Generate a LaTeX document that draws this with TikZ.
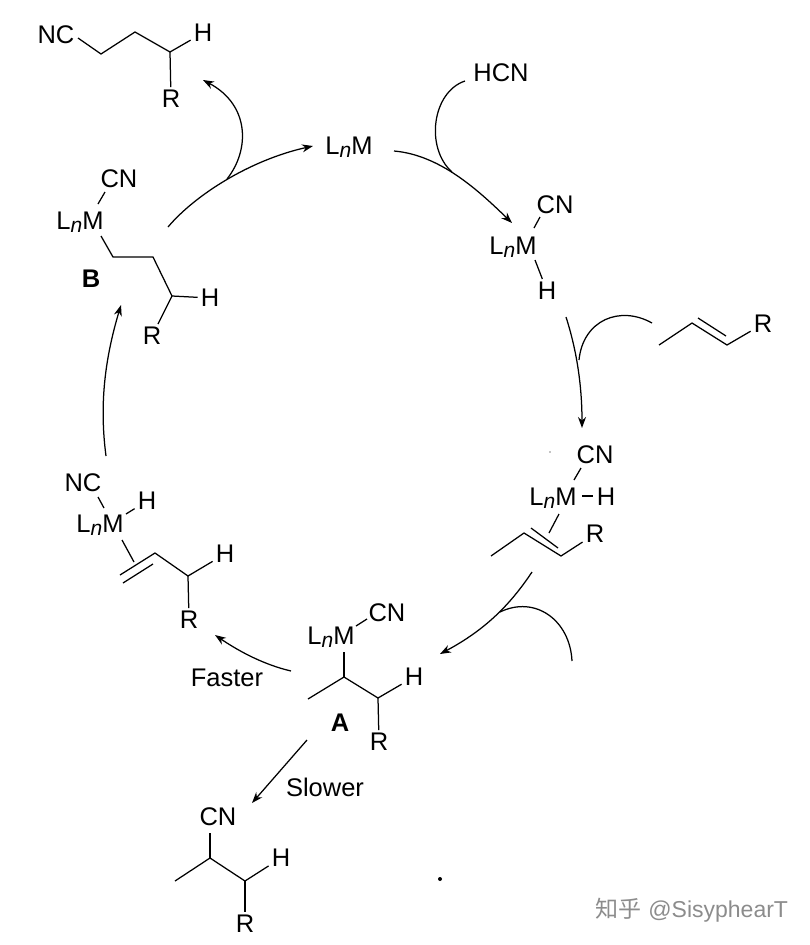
\documentclass[tikz,border=0pt]{standalone}
\usepackage{fontspec}
\setmainfont{Liberation Sans}
\newfontfamily\cjk{Noto Sans CJK SC}
\usetikzlibrary{arrows.meta}
\newcommand{\LnM}{L\raisebox{-3pt}{\fontsize{21}{21}\selectfont\textit{n}}M}
\tikzset{
  lbl/.style={inner sep=3pt,font=\fontsize{25.5}{28}\selectfont},
  bond/.style={line width=1.25pt},
  cyc/.style={line width=1.25pt,-{Stealth[length=11pt,width=8pt]}},
  feed/.style={line width=1.25pt}
}
\begin{document}
\begin{tikzpicture}[x=1pt,y=-1pt]
\useasboundingbox (0,0) rectangle (810,945);
% top product
\node[lbl] (ncT) at (56,35) {NC};
\node[lbl] (hT) at (203,33) {H};
\node[lbl] (rT) at (171,99) {R};
\coordinate (t0) at (78,38);
\coordinate (t1) at (101,54);
\coordinate (t2) at (135,32);
\coordinate (t3) at (170,52);
\draw[bond] (t0) -- (t1) -- (t2) -- (t3) -- (hT);
\draw[bond] (t3) -- (rT);
% catalyst
\node[lbl] (cat) at (349,147) {\LnM};
% HCN adduct
\node[lbl] (hcn) at (501,73) {HCN};
\node[lbl] (cnH) at (555,205) {CN};
\node[lbl] (mH) at (513,247) {\LnM};
\node[lbl] (hH) at (547,291) {H};
\coordinate (h0) at (540,217);
\coordinate (h1) at (534,228);
\coordinate (h2) at (535,260);
\draw[bond] (h0) -- (h1);
\draw[bond] (h2) -- (hH);
% free alkene
\node[lbl] (rE) at (763,324) {R};
\coordinate (e0) at (659,345);
\coordinate (e1) at (692,323);
\coordinate (e2) at (727,345);
\coordinate (e3) at (698,318);
\coordinate (e4) at (726,336);
\draw[bond] (e0) -- (e1) -- (e2) -- (rE);
\draw[bond] (e3) -- (e4);
% alkene complex
\node[lbl] (cnC) at (595,455) {CN};
\node[lbl] (mC) at (553,498) {\LnM};
\node[lbl] (hC) at (606,497) {H};
\node[lbl] (rC) at (595,534) {R};
\coordinate (c0) at (581,468);
\coordinate (c1) at (574,480);
\coordinate (c2) at (582,496);
\coordinate (c3) at (593,496);
\coordinate (c4) at (559,514);
\coordinate (c5) at (549,533);
\coordinate (c6) at (491,556);
\coordinate (c7) at (524,533);
\coordinate (c8) at (561,556);
\coordinate (c9) at (531,528);
\coordinate (c10) at (558,548);
\draw[bond] (c0) -- (c1);
\draw[bond] (c2) -- (c3);
\draw[bond] (c4) -- (c5);
\draw[bond] (c6) -- (c7) -- (c8) -- (rC);
\draw[bond] (c9) -- (c10);
% alkyl A
\node[lbl] (mA) at (331,637) {\LnM};
\node[lbl] (cnA) at (387,613) {CN};
\node[lbl] (hA) at (414,677) {H};
\node[lbl] (rA) at (379,742) {R};
\node[lbl,font=\fontsize{25.5}{28}\selectfont\bfseries] (labA) at (340,723) {A};
\coordinate (a0) at (356,626);
\coordinate (a1) at (367,619);
\coordinate (a2) at (344,652);
\coordinate (a3) at (344,677);
\coordinate (a4) at (308,699);
\coordinate (a5) at (378,698);
\draw[bond] (a0) -- (a1);
\draw[bond] (a2) -- (a3);
\draw[bond] (a4) -- (a3) -- (a5) -- (hA);
\draw[bond] (a5) -- (rA);
% branched product
\node[lbl] (cnP) at (218,817) {CN};
\node[lbl] (hP) at (281,858) {H};
\node[lbl] (rP) at (245,924) {R};
\coordinate (p0) at (210,833);
\coordinate (p1) at (210,858);
\coordinate (p2) at (175,881);
\coordinate (p3) at (245,881);
\draw[bond] (p0) -- (p1);
\draw[bond] (p2) -- (p1) -- (p3) -- (hP);
\draw[bond] (p3) -- (rP);
% allyl complex
\node[lbl] (ncL) at (83,483) {NC};
\node[lbl] (mL) at (100,525) {\LnM};
\node[lbl] (hL) at (147,501) {H};
\node[lbl] (hL2) at (225,554) {H};
\node[lbl] (rL) at (189,620) {R};
\coordinate (l0) at (98,497);
\coordinate (l1) at (104,508);
\coordinate (l2) at (126,514);
\coordinate (l3) at (122,540);
\coordinate (l4) at (134,562);
\coordinate (l5) at (120,575);
\coordinate (l6) at (155,553);
\coordinate (l7) at (188,576);
\coordinate (l8) at (123,583);
\coordinate (l9) at (153,564);
\draw[bond] (l0) -- (l1);
\draw[bond] (l2) -- (hL);
\draw[bond] (l3) -- (l4);
\draw[bond] (l5) -- (l6) -- (l7) -- (hL2);
\draw[bond] (l8) -- (l9);
\draw[bond] (l7) -- (rL);
% alkyl B
\node[lbl] (cnB) at (119,179) {CN};
\node[lbl] (mB) at (80,222) {\LnM};
\node[lbl] (hB) at (210,298) {H};
\node[lbl] (rB) at (152,336) {R};
\node[lbl,font=\fontsize{25.5}{28}\selectfont\bfseries] (labB) at (91,279) {B};
\coordinate (b0) at (105,192);
\coordinate (b1) at (98,204);
\coordinate (b2) at (101,236);
\coordinate (b3) at (113,257);
\coordinate (b4) at (153,257);
\coordinate (b5) at (172,296);
\draw[bond] (b0) -- (b1);
\draw[bond] (b2) -- (b3) -- (b4) -- (b5) -- (hB);
\draw[bond] (b5) -- (rB);
% cycle arrows
\coordinate (s1) at (168,227);
\coordinate (j1) at (227,179);
\coordinate (e5) at (313,146);
\coordinate (u1) at (203,80);
\draw[cyc] (s1) .. controls (195,195) and (250,160) .. (e5);
\draw[cyc] (j1) .. controls (250,150) and (250,105) .. (u1);
\coordinate (s2) at (394,151);
\coordinate (j2) at (452,172);
\coordinate (e6) at (512,223);
\coordinate (u2) at (465,81);
\draw[cyc] (s2) .. controls (440,155) and (478,190) .. (e6);
\draw[feed] (u2) .. controls (432,92) and (425,148) .. (j2);
\coordinate (s3) at (566,317);
\coordinate (j3) at (579,360);
\coordinate (e7) at (582,428);
\coordinate (u3) at (652,323);
\draw[cyc] (s3) .. controls (575,345) and (582,380) .. (e7);
\draw[feed] (u3) .. controls (620,305) and (583,320) .. (j3);
\coordinate (s4) at (532,572);
\coordinate (j4) at (500,612);
\coordinate (e8) at (440,654);
\coordinate (u4) at (572,661);
\draw[cyc] (s4) .. controls (510,605) and (485,630) .. (e8);
\draw[feed] (u4) .. controls (570,620) and (535,595) .. (j4);
\coordinate (s5) at (291,671);
\coordinate (e9) at (215,635);
\draw[cyc] (s5) .. controls (265,665) and (240,652) .. (e9);
\node[lbl] (fast) at (227,678) {Faster};
\coordinate (s6) at (307,740);
\coordinate (e10) at (252,803);
\draw[cyc] (s6) -- (e10);
\node[lbl] (slow) at (325,787) {Slower};
\coordinate (s7) at (106,456);
\coordinate (e11) at (121,305);
\draw[cyc] (s7) .. controls (100,410) and (103,365) .. (e11);
% specks and watermark
\fill (440,879) circle (2pt);
\fill (550,452) circle (0.7pt);
\node[inner sep=0pt,text=black!45,font=\fontsize{23}{26}\selectfont] (mark) at (692,910) {{\cjk 知乎} @SisyphearT};
\end{tikzpicture}
\end{document}
